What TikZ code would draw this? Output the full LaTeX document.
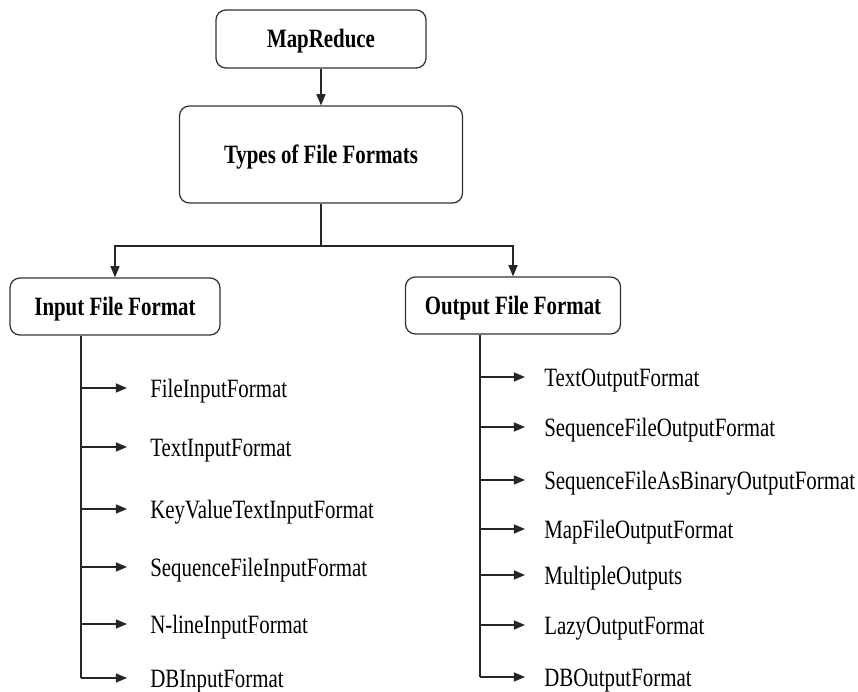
\documentclass[tikz,border=0pt]{standalone}
\usepackage{fontspec}
\setmainfont{Liberation Serif}[FakeStretch=0.79]
\usetikzlibrary{arrows.meta}

\begin{document}
\begin{tikzpicture}[every node/.style={font=\fontsize{18.8}{22}\selectfont},
  fmtbox/.style={draw=black!80, line width=0.9pt, rounded corners=7pt,
    font=\fontsize{18.8}{22}\selectfont\bfseries, text height=0.44cm, text depth=0pt},
  tip/.style={-{Triangle[length=8pt,width=6.5pt]}, line width=0.9pt, draw=black!85},
  item/.style={anchor=west, inner xsep=0.575cm, inner ysep=0pt, text height=0.5cm, text depth=0pt}]
  \useasboundingbox (0,0) rectangle (21.45,17.3);
  % boxes
  \node[fmtbox, minimum width=5.25cm, minimum height=1.45cm]    (mr)     at (8.025,16.325) {MapReduce};
  \node[fmtbox, minimum width=7.075cm, minimum height=2.425cm]  (types)  at (8.025,13.4375) {Types of File Formats};
  \node[fmtbox, minimum width=5.25cm, minimum height=1.425cm]   (input)  at (2.875,9.6375) {Input File Format};
  \node[fmtbox, minimum width=5.375cm, minimum height=1.425cm]  (output) at (12.825,9.6625) {Output File Format};
  \coordinate (split) at (8.025,11.15);
  \draw[tip] (mr.south) -- (types.north);
  \draw[tip] (types.south) -- (split) -| (input.north);
  \draw[tip] (split) -| (output.north);
  % input formats
  \coordinate (inTrunk) at (2.025,0.35);
  \draw[line width=0.9pt, draw=black!85] (input.south -| inTrunk) -- (inTrunk);
  \foreach \y/\t [count=\i] in {7.6/FileInputFormat, 6.125/TextInputFormat,
      4.575/KeyValueTextInputFormat, 3.125/SequenceFileInputFormat,
      1.7/N-lineInputFormat, 0.35/DBInputFormat} {
    \node[item] (in\i) at (3.175,\y) {\t};
    \draw[tip] (in\i.west -| inTrunk) -- (in\i.west);
  }
  % output formats
  \coordinate (outTrunk) at (12.0,0.375);
  \draw[line width=0.9pt, draw=black!85] (output.south -| outTrunk) -- (outTrunk);
  \foreach \y/\t [count=\i] in {7.875/TextOutputFormat, 6.625/SequenceFileOutputFormat,
      5.3/SequenceFileAsBinaryOutputFormat, 4.075/MapFileOutputFormat,
      2.925/MultipleOutputs, 1.675/LazyOutputFormat, 0.375/DBOutputFormat} {
    \node[item, inner xsep=0.475cm] (out\i) at (13.125,\y) {\t};
    \draw[tip] (out\i.west -| outTrunk) -- (out\i.west);
  }
\end{tikzpicture}
\end{document}
